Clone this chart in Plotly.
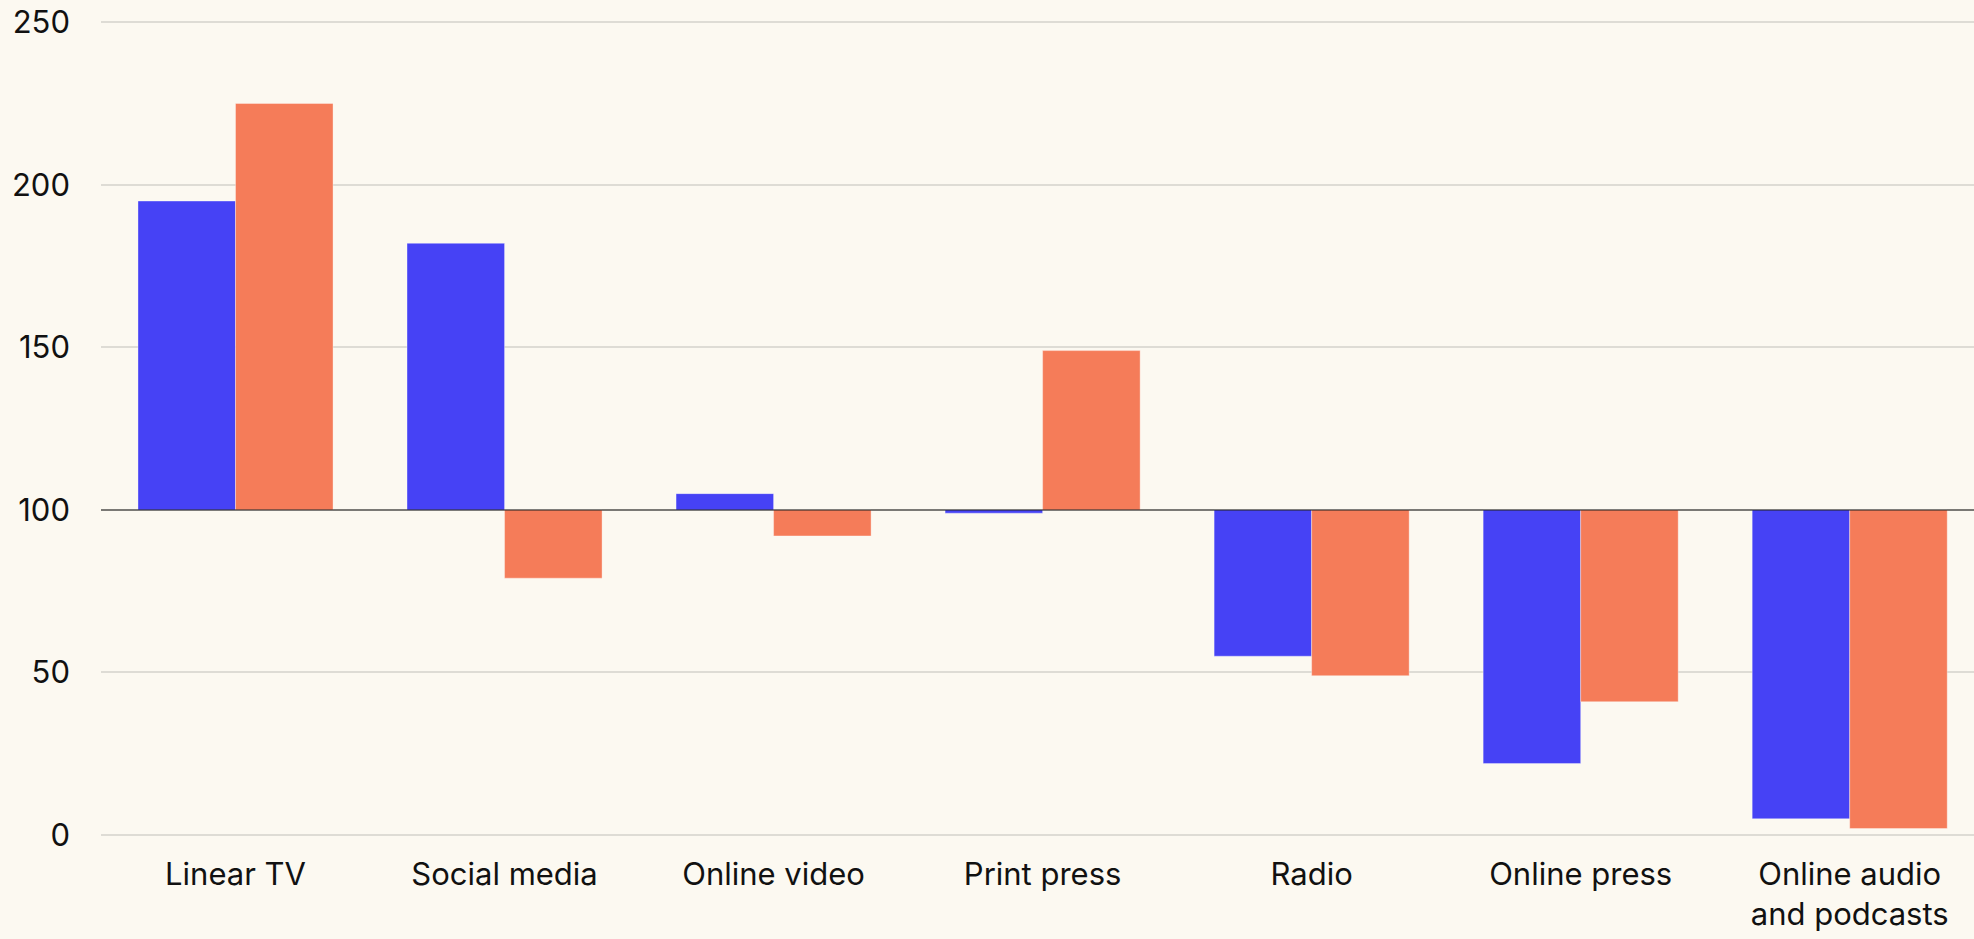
import plotly.graph_objects as go

# Index values (100 = average), two series per media category
categories = ["Linear TV", "Social media", "Online video", "Print press",
              "Radio", "Online press", "Online audio<br>and podcasts"]
series_a = [195, 182, 105, 99, 55, 22, 5]
series_b = [225, 79, 92, 149, 49, 41, 2]
y_ticks = [0, 50, 100, 150, 200, 250]

BASE = 100
BLUE = "#4642F5"
ORANGE = "#F57C59"
BG = "#FCF9F1"
GRID = "#DEDCD5"
TEXT = "#111111"
FONT = "Inter"

x_idx = list(range(len(categories)))

fig = go.Figure()
for vals, color in ((series_a, BLUE), (series_b, ORANGE)):
    fig.add_trace(go.Bar(
        x=x_idx,
        y=[v - BASE for v in vals],
        base=BASE,
        marker=dict(color=color, line=dict(color="rgba(255,255,255,0.35)", width=1)),
        showlegend=False,
        hoverinfo="skip",
    ))

# reference line at the index baseline, drawn over the bars
fig.add_shape(type="line", xref="paper", x0=0, x1=1, yref="y", y0=BASE, y1=BASE,
              line=dict(color="rgba(0,0,0,0.45)", width=2), layer="above")

fig.update_layout(
    width=1974, height=939,
    margin=dict(l=101, r=0, t=19, b=104, pad=0),
    paper_bgcolor=BG, plot_bgcolor=BG,
    barmode="group", bargap=0.275, bargroupgap=0,
    font=dict(family=FONT, size=31, color=TEXT),
)
fig.update_xaxes(
    tickmode="array", tickvals=x_idx, ticktext=categories,
    range=[-0.5, 6.462],
    showgrid=False, zeroline=False, showline=False,
    ticks="", ticklabelstandoff=18,
    tickfont=dict(family=FONT, size=31, color=TEXT),
)
fig.update_yaxes(
    range=[0, 251], tickmode="array", tickvals=y_ticks,
    showgrid=True, gridcolor=GRID, gridwidth=2,
    zeroline=True, zerolinecolor=GRID, zerolinewidth=2,
    showline=False, ticks="", ticklabelstandoff=30,
    tickfont=dict(family=FONT, size=31, color=TEXT),
)

fig.write_html("out.html")
